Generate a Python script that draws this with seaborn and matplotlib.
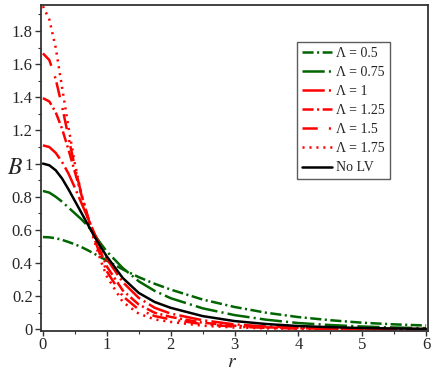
import matplotlib
matplotlib.use("Agg")
import matplotlib.pyplot as plt
import pandas as pd
import seaborn as sns
from matplotlib.ticker import MultipleLocator

# radial positions
r = [0, 0.1, 0.2, 0.3, 0.4, 0.5, 0.6, 0.7, 0.8, 0.9, 1.0,
     1.25, 1.5, 1.75, 2, 2.5, 3, 3.5, 4, 4.5, 5, 5.5, 6]

b_050 = [0.557, 0.555, 0.55, 0.54, 0.527, 0.513, 0.497, 0.478, 0.457, 0.436, 0.415,
         0.362, 0.315, 0.275, 0.24, 0.18, 0.135, 0.10, 0.074, 0.055, 0.04, 0.03, 0.023]
b_075 = [0.835, 0.825, 0.80, 0.77, 0.735, 0.70, 0.665, 0.625, 0.575, 0.52, 0.47,
         0.37, 0.29, 0.232, 0.188, 0.127, 0.086, 0.058, 0.038, 0.026, 0.017, 0.011, 0.007]
b_100 = [1.11, 1.10, 1.065, 1.01, 0.94, 0.855, 0.765, 0.675, 0.585, 0.50, 0.425,
         0.285, 0.19, 0.13, 0.095, 0.055, 0.03, 0.017, 0.01, 0.006, 0.0035, 0.002, 0.001]
b_125 = [1.395, 1.375, 1.31, 1.21, 1.085, 0.95, 0.815, 0.685, 0.57, 0.47, 0.38,
         0.235, 0.15, 0.10, 0.075, 0.04, 0.022, 0.012, 0.007, 0.004, 0.0022, 0.0012, 0.0007]
b_150 = [1.665, 1.625, 1.51, 1.345, 1.16, 0.98, 0.82, 0.68, 0.555, 0.445, 0.35,
         0.20, 0.12, 0.08, 0.06, 0.031, 0.016, 0.009, 0.005, 0.0027, 0.0015, 0.0008, 0.0005]
b_175 = [1.95, 1.87, 1.70, 1.46, 1.22, 1.0, 0.82, 0.67, 0.54, 0.42, 0.32,
         0.165, 0.095, 0.06, 0.045, 0.022, 0.011, 0.006, 0.003, 0.0017, 0.0009, 0.0005, 0.0003]
b_nolv = [1.0, 0.99, 0.96, 0.91, 0.845, 0.775, 0.705, 0.635, 0.565, 0.50, 0.44,
          0.31, 0.22, 0.165, 0.13, 0.08, 0.05, 0.032, 0.02, 0.013, 0.008, 0.005, 0.003]

labels = ["\u039b = 0.5", "\u039b = 0.75", "\u039b = 1", "\u039b = 1.25",
          "\u039b = 1.5", "\u039b = 1.75", "No LV"]
series = [b_050, b_075, b_100, b_125, b_150, b_175, b_nolv]

green = "#006400"
red = "#ff0000"
colors = [green, green, red, red, red, red, "black"]
styles = [(0, (8, 2.5, 1.5, 2.5)),
          (0, (16, 3, 1.5, 3)),
          (0, (16, 3, 1.5, 3)),
          (0, (8, 2.5, 1.5, 2.5)),
          (0, (11, 8, 1.5, 3)),
          (0, (1.5, 3.5)),
          "-"]

sns.set_theme(style="ticks")
plt.rcParams["font.family"] = ["Liberation Serif", "DejaVu Serif"]
plt.rcParams["lines.scale_dashes"] = False
plt.rcParams["mathtext.fontset"] = "stix"

fig = plt.figure(figsize=(4.36, 3.71), dpi=100)
ax = fig.add_axes([41 / 436, 1 - 331 / 371, 387 / 436, 326 / 371])

for vals, lab, col, ls in zip(series, labels, colors, styles):
    df = pd.DataFrame({"r": r, "B": vals})
    sns.lineplot(data=df, x="r", y="B", ax=ax, color=col, linestyle=ls,
                 linewidth=1.8, label=lab, errorbar=None)

ax.set_xlim(-0.03, 6.03)
ax.set_ylim(-0.01, 1.957)
ax.xaxis.set_major_locator(MultipleLocator(1))
ax.xaxis.set_minor_locator(MultipleLocator(0.5))
ax.yaxis.set_minor_locator(MultipleLocator(0.1))
ax.set_yticks([0, 0.2, 0.4, 0.6, 0.8, 1, 1.2, 1.4, 1.6, 1.8])
ax.set_yticklabels(["0", "0.2", "0.4", "0.6", "0.8", "1", "1.2", "1.4", "1.6", "1.8"])
ax.tick_params(axis="both", which="major", labelsize=12, length=4, width=1,
               direction="out", pad=2, color="#333333")
ax.tick_params(axis="x", which="major", length=3.5, pad=0.5)
ax.tick_params(axis="both", which="minor", length=2.5, width=0.8,
               direction="out", color="#333333")
for s in ax.spines.values():
    s.set_color("#333333")
    s.set_linewidth(1.3)

ax.set_xlabel("$r$", fontsize=14, va="center")
ax.xaxis.set_label_coords(0.493, -0.098)
ax.set_ylabel("$B$", fontsize=17, rotation=0, va="center")
ax.yaxis.set_label_coords(-0.068, 0.5)

leg = ax.legend(loc="upper left", bbox_to_anchor=(0.661, 0.887), fontsize=10,
                frameon=True, fancybox=False, edgecolor="#333333",
                handlelength=2.2, handletextpad=0.3, labelspacing=0.44,
                borderpad=0.35, borderaxespad=0)
leg.get_frame().set_linewidth(1.0)

fig.savefig("out.png", dpi=100, facecolor="white")
